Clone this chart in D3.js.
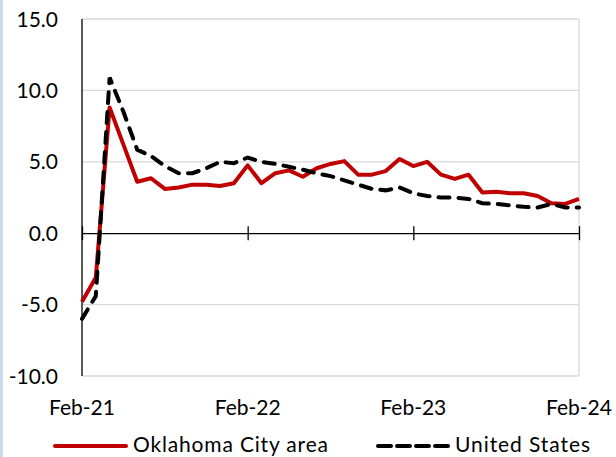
<!DOCTYPE html>
<html>
<head>
<meta charset="utf-8">
<script src="https://cdn.jsdelivr.net/npm/d3@7"></script>
<style>
  body { margin: 0; background: #fff; }
  svg { display: block; }
  text { font-family: Lato, "Open Sans", sans-serif; fill: #000; }
</style>
</head>
<body>
<svg id="chart" width="616" height="457"></svg>
<script>
// monthly, Feb-21 .. Feb-24
var okcValues = [-4.8, -3.1, 8.8, 6.2, 3.6, 3.85, 3.1, 3.2, 3.4, 3.4, 3.3, 3.5,
  4.75, 3.5, 4.2, 4.4, 3.95, 4.55, 4.85, 5.05, 4.1, 4.1, 4.35, 5.2,
  4.7, 5.0, 4.1, 3.8, 4.1, 2.85, 2.9, 2.8, 2.8, 2.6, 2.1, 2.05, 2.4];
var usValues = [-6.0, -4.4, 10.9, 8.5, 5.85, 5.4, 4.7, 4.2, 4.2, 4.55, 5.0, 4.9,
  5.3, 5.0, 4.85, 4.65, 4.45, 4.2, 4.0, 3.7, 3.4, 3.1, 3.0, 3.2,
  2.8, 2.6, 2.5, 2.5, 2.4, 2.1, 2.05, 1.95, 1.85, 1.8, 2.05, 1.8, 1.8];
var xTickIdx = [0, 12, 24, 36];
var xTickLabels = ["Feb-21", "Feb-22", "Feb-23", "Feb-24"];
var yTicks = [-10, -5, 0, 5, 10, 15];
var seriesNames = ["Oklahoma City area", "United States"];

var svg = d3.select("#chart");

// light blue strip on left edge
svg.append("rect").attr("x", 0).attr("y", 0).attr("width", 3).attr("height", 457)
  .attr("fill", "#c9d9f0");

var x = d3.scaleLinear().domain([0, 36]).range([82, 579]);
var y = d3.scaleLinear().domain([-10, 15]).range([376, 19]);

// gridlines
svg.append("g").selectAll("line")
  .data(yTicks.filter(function(d){ return d != 0; }))
  .enter().append("line")
  .attr("x1", x(0)).attr("x2", x(36))
  .attr("y1", function(d){ return y(d); })
  .attr("y2", function(d){ return y(d); })
  .attr("stroke", "#d9d9d9").attr("stroke-width", 1.3);

// right border
svg.append("line")
  .attr("x1", x(36)).attr("x2", x(36)).attr("y1", y(15)).attr("y2", y(-10))
  .attr("stroke", "#d9d9d9").attr("stroke-width", 1.3);

// y labels (plain hyphen for negatives, like the original)
svg.append("g").selectAll("text")
  .data(yTicks).enter().append("text")
  .attr("x", 58).attr("y", function(d){ return y(d) + 7.5; })
  .attr("text-anchor", "end")
  .style("font-size", "21px")
  .text(function(d){ return d3.format(".1f")(d).replace("\u2212", "-"); });

// left axis
svg.append("line")
  .attr("x1", x(0)).attr("x2", x(0)).attr("y1", y(15)).attr("y2", y(-10))
  .attr("stroke", "#000").attr("stroke-width", 1.3);

// x axis at zero
var xAxis = d3.axisBottom(x)
  .tickValues(xTickIdx)
  .tickSize(0)
  .tickFormat("");
var gx = svg.append("g").attr("transform", "translate(0," + y(0) + ")").call(xAxis);
gx.select(".domain").attr("stroke", "#000").attr("stroke-width", 1.3);
gx.selectAll(".tick line").attr("y1", -7).attr("y2", 7)
  .attr("stroke", "#000").attr("stroke-width", 1.3);

// x labels at bottom
svg.append("g").selectAll("text")
  .data(xTickIdx).enter().append("text")
  .attr("x", function(d){ return x(d); })
  .attr("y", 415)
  .attr("text-anchor", "middle")
  .style("font-size", "21px")
  .text(function(d, i){ return xTickLabels[i]; });

var line = d3.line()
  .x(function(d, i){ return x(i); })
  .y(function(d){ return y(d); });

svg.append("path").datum(okcValues)
  .attr("d", line)
  .attr("fill", "none")
  .attr("stroke", "#c00000")
  .attr("stroke-width", 4)
  .attr("stroke-linejoin", "round");

svg.append("path").datum(usValues)
  .attr("d", line)
  .attr("fill", "none")
  .attr("stroke", "#000")
  .attr("stroke-width", 4)
  .attr("stroke-linecap", "round")
  .attr("stroke-dasharray", "11,9");

// legend
var leg = svg.append("g");
leg.append("line").attr("x1", 55).attr("x2", 126).attr("y1", 446).attr("y2", 446)
  .attr("stroke", "#c00000").attr("stroke-width", 4).attr("stroke-linecap", "round");
leg.append("text").attr("x", 133).attr("y", 452).style("font-size", "21px")
  .attr("textLength", 195).attr("lengthAdjust", "spacing")
  .text(seriesNames[0]);
leg.append("line").attr("x1", 378).attr("x2", 448).attr("y1", 446).attr("y2", 446)
  .attr("stroke", "#000").attr("stroke-width", 4).attr("stroke-linecap", "round")
  .attr("stroke-dasharray", "13,6");
leg.append("text").attr("x", 455).attr("y", 452).style("font-size", "21px")
  .attr("textLength", 135).attr("lengthAdjust", "spacing")
  .text(seriesNames[1]);
</script>
</body>
</html>
